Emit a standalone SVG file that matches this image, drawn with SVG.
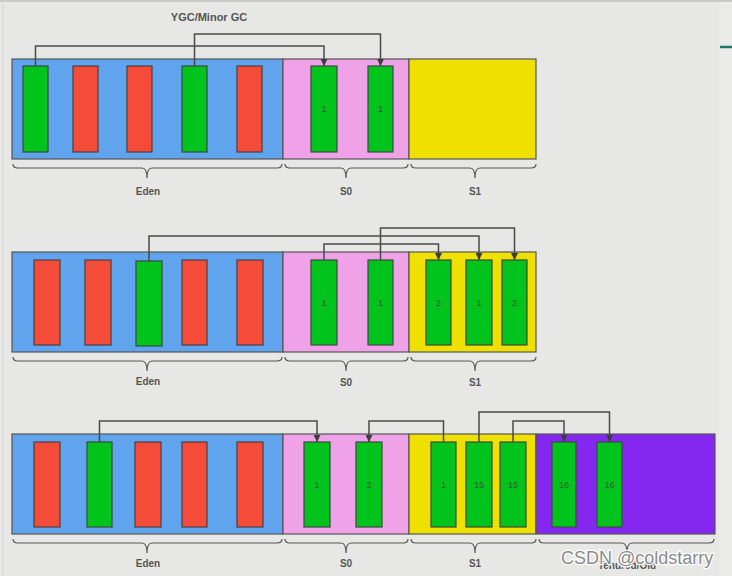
<svg xmlns="http://www.w3.org/2000/svg" width="732" height="576" viewBox="0 0 732 576">
<defs>
<style>
.bg{fill:#e7e8e6}
.eden{fill:#5fa4ec;stroke:#555;stroke-width:1.2}
.s0{fill:#f0a2e8;stroke:#555;stroke-width:1.2}
.s1{fill:#efe000;stroke:#555;stroke-width:1.2}
.old{fill:#8428f0;stroke:#555;stroke-width:1.2}
.g{fill:#00c31c;stroke:#3d4a3d;stroke-width:1.2}
.r{fill:#f44c38;stroke:#4a4040;stroke-width:1.2}
.num{font-family:"Liberation Sans",Arial,sans-serif;font-size:9px;fill:#2d5a2d;text-anchor:middle}
.lbl{font-family:"Liberation Sans",Arial,sans-serif;font-size:10px;font-weight:bold;fill:#555;text-anchor:middle}
.brace{fill:none;stroke:#555;stroke-width:1.2}
.conn{fill:none;stroke:#4a4a4a;stroke-width:1.5}
</style>
<marker id="arr" viewBox="0 0 10 10" refX="10" refY="5" markerWidth="7" markerHeight="7" markerUnits="userSpaceOnUse" orient="auto">
<path d="M0,0 L10,5 L0,10 z" fill="#3c3c3c"/>
</marker>
</defs>
<rect class="bg" x="0" y="0" width="732" height="576"/>
<rect x="719" y="0" width="13" height="576" fill="#ebecea"/>
<line x1="0" y1="1" x2="732" y2="1" stroke="#c8c9c8" stroke-width="2"/>
<line x1="3" y1="0" x2="3" y2="576" stroke="#d2d3d2" stroke-width="1"/>
<line x1="720" y1="47" x2="732" y2="47" stroke="#1d7a68" stroke-width="2.5"/>

<text x="209" y="21" class="lbl" style="font-size:11px">YGC/Minor GC</text>

<!-- Row 1 -->
<g id="row1-eden">
<rect class="eden" x="12" y="59" width="271" height="100"/>
<rect class="g" x="23" y="66" width="25" height="86"/>
<rect class="r" x="73" y="66" width="25" height="86"/>
<rect class="r" x="127" y="66" width="25" height="86"/>
<rect class="g" x="182" y="66" width="25" height="86"/>
<rect class="r" x="237" y="66" width="25" height="86"/>
</g>
<g id="row1-s0">
<rect class="s0" x="283" y="59" width="126" height="100"/>
<rect class="g" x="311" y="66" width="26" height="86"/><text class="num" x="324" y="112">1</text>
<rect class="g" x="368" y="66" width="25" height="86"/><text class="num" x="380.5" y="112">1</text>
</g>
<g id="row1-s1">
<rect class="s1" x="409" y="59" width="127" height="100"/>
</g>
<g id="row1-labels">
<path class="brace" d="M13,164 Q13,168 18,168 H142 Q147,168 147,178 Q147,168 152,168 H277 Q282,168 282,164"/>
<path class="brace" d="M285,164 Q285,168 290,168 H341 Q346,168 346,178 Q346,168 351,168 H403 Q408,168 408,164"/>
<path class="brace" d="M411,164 Q411,168 416,168 H470 Q475,168 475,178 Q475,168 480,168 H531 Q536,168 536,164"/>
<text class="lbl" x="148" y="195">Eden</text>
<text class="lbl" x="346" y="195">S0</text>
<text class="lbl" x="475" y="195">S1</text>
</g>

<!-- Row 2 -->
<g id="row2-eden">
<rect class="eden" x="12" y="252" width="271" height="100"/>
<rect class="r" x="34" y="260" width="26" height="85"/>
<rect class="r" x="85" y="260" width="26" height="85"/>
<rect class="g" x="136" y="261" width="26" height="85"/>
<rect class="r" x="182" y="260" width="25" height="85"/>
<rect class="r" x="237" y="260" width="26" height="85"/>
</g>
<g id="row2-s0">
<rect class="s0" x="283" y="252" width="126" height="100"/>
<rect class="g" x="311" y="260" width="26" height="85"/><text class="num" x="324" y="306">1</text>
<rect class="g" x="368" y="260" width="25" height="85"/><text class="num" x="380.5" y="306">1</text>
</g>
<g id="row2-s1">
<rect class="s1" x="409" y="252" width="127" height="100"/>
<rect class="g" x="426" y="260" width="25" height="85"/><text class="num" x="438.5" y="306">2</text>
<rect class="g" x="466" y="260" width="26" height="85"/><text class="num" x="479" y="306">1</text>
<rect class="g" x="502" y="260" width="25" height="85"/><text class="num" x="514.5" y="306">2</text>
</g>
<g id="row2-labels">
<path class="brace" d="M13,357 Q13,361 18,361 H142 Q147,361 147,371 Q147,361 152,361 H277 Q282,361 282,357"/>
<path class="brace" d="M285,357 Q285,361 290,361 H341 Q346,361 346,371 Q346,361 351,361 H403 Q408,361 408,357"/>
<path class="brace" d="M411,357 Q411,361 416,361 H470 Q475,361 475,371 Q475,361 480,361 H531 Q536,361 536,357"/>
<text class="lbl" x="148" y="385">Eden</text>
<text class="lbl" x="346" y="386">S0</text>
<text class="lbl" x="475" y="386">S1</text>
</g>

<!-- Row 3 -->
<g id="row3-eden">
<rect class="eden" x="12" y="434" width="271" height="100"/>
<rect class="r" x="34" y="442" width="26" height="85"/>
<rect class="g" x="87" y="442" width="25" height="85"/>
<rect class="r" x="135" y="442" width="26" height="85"/>
<rect class="r" x="182" y="442" width="25" height="85"/>
<rect class="r" x="237" y="442" width="26" height="85"/>
</g>
<g id="row3-s0">
<rect class="s0" x="283" y="434" width="126" height="100"/>
<rect class="g" x="304" y="442" width="26" height="85"/><text class="num" x="317" y="488">1</text>
<rect class="g" x="356" y="442" width="26" height="85"/><text class="num" x="369" y="488">2</text>
</g>
<g id="row3-s1">
<rect class="s1" x="409" y="434" width="127" height="100"/>
<rect class="g" x="431" y="442" width="25" height="85"/><text class="num" x="443.5" y="488">1</text>
<rect class="g" x="466" y="442" width="26" height="85"/><text class="num" x="479" y="488">15</text>
<rect class="g" x="500" y="442" width="26" height="85"/><text class="num" x="513" y="488">15</text>
</g>
<g id="row3-old">
<rect class="old" x="536" y="434" width="179" height="100"/>
<rect class="g" x="552" y="442" width="24" height="85"/><text class="num" x="564" y="488">16</text>
<rect class="g" x="597" y="442" width="25" height="85"/><text class="num" x="609.5" y="488">16</text>
</g>
<g id="row3-labels">
<path class="brace" d="M13,539 Q13,543 18,543 H142 Q147,543 147,553 Q147,543 152,543 H277 Q282,543 282,539"/>
<path class="brace" d="M285,539 Q285,543 290,543 H341 Q346,543 346,553 Q346,543 351,543 H403 Q408,543 408,539"/>
<path class="brace" d="M411,539 Q411,543 416,543 H470 Q475,543 475,553 Q475,543 480,543 H531 Q536,543 536,539"/>
<path class="brace" d="M539,539 Q539,543 544,543 H622 Q627,543 627,553 Q627,543 632,543 H709 Q714,543 714,539"/>
<text class="lbl" x="148" y="567">Eden</text>
<text class="lbl" x="346" y="567">S0</text>
<text class="lbl" x="475" y="567">S1</text>
<text class="lbl" x="627" y="569">Tenured/Old</text>
</g>

<!-- Connectors -->
<g id="connectors">
<path class="conn" d="M35.5,66 V46 H324 V66" marker-end="url(#arr)"/>
<path class="conn" d="M194.5,66 V34 H380.5 V66" marker-end="url(#arr)"/>
<path class="conn" d="M324,260 V244 H438.5 V260" marker-end="url(#arr)"/>
<path class="conn" d="M149,261 V236 H479 V260" marker-end="url(#arr)"/>
<path class="conn" d="M380.5,260 V228 H514.5 V260" marker-end="url(#arr)"/>
<path class="conn" d="M99.5,442 V421 H317 V442" marker-end="url(#arr)"/>
<path class="conn" d="M443.5,442 V421 H369 V442" marker-end="url(#arr)"/>
<path class="conn" d="M479,442 V412 H609.5 V442" marker-end="url(#arr)"/>
<path class="conn" d="M513,442 V421 H564 V442" marker-end="url(#arr)"/>
</g>

<text x="561" y="564" style="font-family:'Liberation Sans',Arial,sans-serif;font-size:18px;fill:#8a8a8a;stroke:#ffffff;stroke-width:2.5;paint-order:stroke">CSDN @coldstarry</text>
</svg>
